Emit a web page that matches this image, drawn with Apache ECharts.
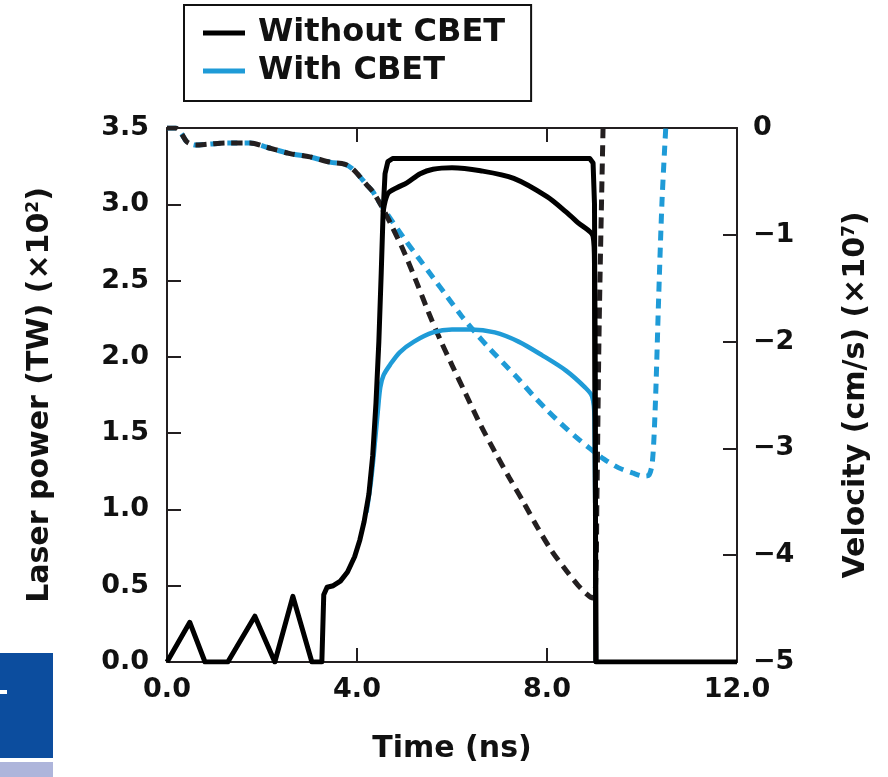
<!DOCTYPE html>
<html lang="en">
<head>
    <meta charset="UTF-8">
    <title>Laser power and velocity</title>
    <script src="https://cdn.jsdelivr.net/npm/echarts@6/dist/echarts.min.js"></script>
    <style>
        * { padding: 0; margin: 0; }
        html, body { width: 888px; height: 777px; background: #fff; }
        #chart { width: 888px; height: 777px; }
    </style>
</head>
<body>
    <div id="chart"></div>
<script>
    // incident laser pulse (TW x 1e2)
    var pulseT = [0, 0.48, 0.8, 1.28, 1.85, 2.27, 2.65, 3.05, 3.26, 3.3, 3.37, 3.5, 3.65, 3.8, 3.95, 4.06, 4.15, 4.25, 4.33, 4.4, 4.46, 4.51, 4.55, 4.59, 4.65, 4.75, 8.9, 8.97, 9.0, 9.03, 12];
    var pulseP = [0, 0.26, 0, 0, 0.30, 0, 0.43, 0, 0, 0.44, 0.49, 0.5, 0.53, 0.59, 0.69, 0.8, 0.92, 1.1, 1.35, 1.7, 2.1, 2.55, 2.95, 3.2, 3.28, 3.3, 3.3, 3.27, 3.0, 0, 0];
    // absorbed power without CBET
    var absT = [4.55, 4.65, 4.85, 5.05, 5.33, 5.6, 6.0, 6.6, 7.3, 8.0, 8.4, 8.65, 8.97, 9.0, 9.03];
    var absP = [2.95, 3.07, 3.11, 3.14, 3.2, 3.23, 3.24, 3.22, 3.17, 3.05, 2.95, 2.88, 2.79, 2.6, 0];
    // absorbed power with CBET
    var cbetT = [4.2, 4.3, 4.38, 4.44, 4.49, 4.56, 4.7, 4.9, 5.2, 5.6, 6.0, 6.4, 6.9, 7.4, 7.9, 8.4, 8.8, 8.95, 9.0, 9.03];
    var cbetP = [0.98, 1.2, 1.45, 1.65, 1.8, 1.88, 1.95, 2.03, 2.1, 2.16, 2.18, 2.18, 2.16, 2.1, 2.01, 1.91, 1.8, 1.74, 1.6, 0];
    // shell velocity without CBET (cm/s x 1e7)
    var velT = [0, 0.18, 0.3, 0.42, 0.6, 0.9, 1.26, 1.75, 2.1, 2.59, 3.01, 3.43, 3.75, 3.9, 4.05, 4.2, 4.34, 4.5, 4.69, 4.97, 5.26, 5.5, 5.75, 6.0, 6.3, 6.6, 6.9, 7.2, 7.5, 7.8, 8.1, 8.4, 8.65, 8.85, 8.95, 9.02, 9.05, 9.1, 9.18];
    var velV = [0, 0, -0.05, -0.13, -0.16, -0.15, -0.14, -0.14, -0.18, -0.24, -0.27, -0.32, -0.34, -0.38, -0.45, -0.53, -0.6, -0.72, -0.88, -1.14, -1.45, -1.72, -1.98, -2.22, -2.5, -2.78, -3.03, -3.27, -3.5, -3.74, -3.96, -4.14, -4.28, -4.37, -4.4, -4.3, -3.5, -1.8, 0];
    // shell velocity with CBET
    var velCbetT = [0, 0.18, 0.3, 0.42, 0.6, 0.9, 1.26, 1.75, 2.1, 2.59, 3.01, 3.43, 3.75, 3.9, 4.05, 4.2, 4.34, 4.42, 4.63, 4.97, 5.3, 5.6, 5.9, 6.2, 6.5, 6.8, 7.1, 7.4, 7.7, 8.0, 8.3, 8.6, 8.9, 9.2, 9.5, 9.8, 10.05, 10.15, 10.22, 10.28, 10.35, 10.42, 10.5];
    var velCbetV = [0, 0, -0.05, -0.13, -0.16, -0.15, -0.14, -0.14, -0.18, -0.24, -0.27, -0.32, -0.34, -0.38, -0.45, -0.53, -0.6, -0.66, -0.8, -1.02, -1.22, -1.4, -1.58, -1.76, -1.92, -2.07, -2.21, -2.35, -2.5, -2.64, -2.77, -2.89, -3.0, -3.1, -3.18, -3.23, -3.26, -3.25, -3.12, -2.6, -1.6, -0.7, 0];

    var BLACK = '#111111';
    var DARK = '#231f20';
    var BLUE = '#1f9bd7';
    var FONT = 'DejaVu Sans';

    function zip(t, v) {
        return t.map(function (x, i) { return [x, v[i]]; });
    }

    var labelStyle = { fontSize: 27, fontWeight: 'bold', fontFamily: FONT, color: BLACK };
    var nameStyle = {
        fontSize: 30, fontWeight: 'bold', fontFamily: FONT, color: BLACK,
        rich: { sup: { fontSize: 17, fontWeight: 'bold', fontFamily: FONT, color: BLACK, verticalAlign: 'top' } }
    };
    var axisLine = { show: true, onZero: false, lineStyle: { color: DARK, width: 2 } };
    var axisTick = { show: true, inside: true, length: 14, lineStyle: { color: DARK, width: 2 } };

    var chart = echarts.init(document.getElementById('chart'));
    var option = {
        animation: false,
        grid: { left: 167, right: 151, top: 128, bottom: 115 },
        legend: {
            orient: 'vertical',
            left: 184,
            top: 5,
            padding: [12, 26, 14, 19],
            borderColor: BLACK,
            borderWidth: 2,
            itemWidth: 42,
            itemHeight: 5,
            itemGap: 6,
            icon: 'rect',
            selectedMode: false,
            textStyle: { fontSize: 32, fontWeight: 'bold', fontFamily: FONT, color: BLACK, padding: [0, 0, 0, 8] },
            data: [
                { name: 'Without CBET', itemStyle: { color: '#000' } },
                { name: 'With CBET', itemStyle: { color: BLUE } }
            ]
        },
        xAxis: [{
            type: 'value', position: 'bottom', min: 0, max: 12, interval: 4,
            axisLine: axisLine, axisTick: axisTick, splitLine: { show: false },
            axisLabel: Object.assign({ margin: 14, formatter: function (v) { return v.toFixed(1); } }, labelStyle),
            name: 'Time (ns)', nameLocation: 'middle', nameGap: 72, nameTextStyle: nameStyle
        }, {
            type: 'value', position: 'top', min: 0, max: 12, interval: 4,
            axisLine: axisLine, axisTick: axisTick, splitLine: { show: false },
            axisLabel: { show: false }
        }],
        yAxis: [{
            type: 'value', position: 'left', min: 0, max: 3.5, interval: 0.5,
            axisLine: axisLine, axisTick: axisTick, splitLine: { show: false },
            axisLabel: Object.assign({ margin: 18, formatter: function (v) { return v.toFixed(1); } }, labelStyle),
            name: 'Laser power (TW) (\u00d710{sup|2})', nameLocation: 'middle', nameRotate: 90, nameGap: 112,
            nameTextStyle: nameStyle
        }, {
            type: 'value', position: 'right', min: -5, max: 0, interval: 1,
            axisLine: axisLine, axisTick: axisTick, splitLine: { show: false },
            axisLabel: Object.assign({ margin: 16, formatter: function (v) { return v === 0 ? '0' : '\u2212' + Math.abs(v); } }, labelStyle),
            name: 'Velocity (cm/s) (\u00d710{sup|7})', nameLocation: 'middle', nameRotate: 90, nameGap: 104,
            nameTextStyle: nameStyle
        }],
        series: [{
            name: 'With CBET', type: 'line', yAxisIndex: 1, showSymbol: false, smooth: 0.3,
            lineStyle: { color: BLUE, width: 5, type: [10, 7] },
            data: zip(velCbetT, velCbetV)
        }, {
            name: 'Without CBET', type: 'line', yAxisIndex: 1, showSymbol: false, smooth: 0.3,
            lineStyle: { color: DARK, width: 5, type: [11, 7] },
            data: zip(velT, velV)
        }, {
            name: 'With CBET', type: 'line', showSymbol: false, smooth: 0.3,
            lineStyle: { color: BLUE, width: 4.5, join: 'round' },
            data: zip(cbetT, cbetP)
        }, {
            name: 'Without CBET', type: 'line', showSymbol: false, smooth: 0.3,
            lineStyle: { color: '#000', width: 5, join: 'round' },
            data: zip(absT, absP)
        }, {
            name: 'Without CBET', type: 'line', showSymbol: false, smooth: false,
            lineStyle: { color: '#000', width: 5, join: 'round' },
            data: zip(pulseT, pulseP)
        }],
        graphic: [
            { type: 'rect', left: 0, top: 653, shape: { width: 53, height: 105 }, style: { fill: '#0c4d9e' } },
            { type: 'rect', left: 0, top: 690, shape: { width: 7, height: 4 }, style: { fill: '#fff' } },
            { type: 'rect', left: 0, top: 762, shape: { width: 53, height: 15 }, style: { fill: '#aeb5db' } }
        ]
    };
    chart.setOption(option);
</script>
</body>
</html>
